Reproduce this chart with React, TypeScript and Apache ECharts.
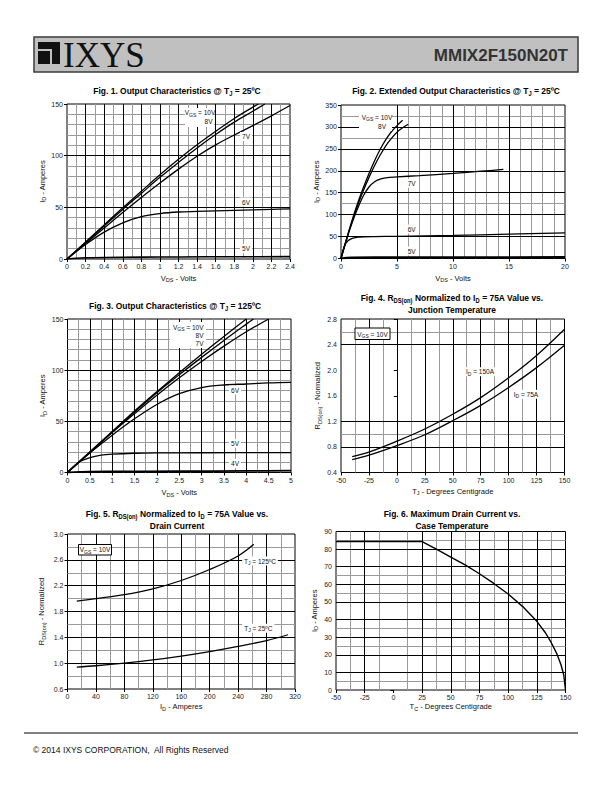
import React, { useEffect, useRef } from 'react';
import * as echarts from 'echarts';

const F = "'Liberation Sans', Arial, Helvetica, sans-serif";
const FN = "'Liberation Sans Narrow', 'Arial Narrow', 'Liberation Sans', Arial, sans-serif";
const GRAY = '#9a9a9a';

// ---------- Fig. 1 : Output characteristics @ 25C  [VDS (V), ID (A)]
const fig1_10V = [[0,0],[0.2,16.5],[0.4,33],[0.6,49.5],[0.8,65.5],[1.0,81.5],[1.2,96.5],[1.4,110.5],[1.6,123.5],[1.8,136],[2.0,147],[2.06,150]];
const fig1_8V = [[0,0],[0.2,16],[0.4,32],[0.6,48],[0.8,63.5],[1.0,79],[1.2,93.5],[1.4,107.5],[1.6,120.5],[1.8,132.5],[2.0,143],[2.13,150]];
const fig1_7V = [[0,0],[0.2,15],[0.4,30],[0.6,45],[0.8,59.5],[1.0,73.5],[1.2,87],[1.4,99.5],[1.6,110.5],[1.8,120],[2.0,129],[2.2,138.5],[2.4,148.5]];
const fig1_6V = [[0,0],[0.2,14],[0.4,26],[0.6,35],[0.8,41],[1.0,44],[1.2,45.5],[1.4,46],[1.6,46.5],[1.8,47],[2.0,47.5],[2.2,48],[2.4,48.5]];
const fig1_5V = [[0,0],[0.1,0.8],[0.2,1.2],[0.4,1.5],[0.8,1.8],[1.2,2],[1.8,2.2],[2.4,2.3]];

// ---------- Fig. 2 : Extended output characteristics @ 25C
const fig2_10V = [[0,0],[0.5,45],[1,88],[1.5,127],[2,162],[2.5,194],[3,223],[3.5,249],[4,271],[4.5,289],[5,303],[5.5,315]];
const fig2_8V = [[0,0],[0.5,44],[1,85],[1.5,122],[2,155],[2.5,185],[3,212],[3.5,236],[4,257],[4.5,274],[5,288],[5.5,298],[6,306]];
const fig2_7V = [[0,0],[0.5,44],[1,82],[1.5,115],[2,143],[2.5,163],[3,175],[3.5,181],[4,184],[5,186],[7,189],[10,194],[12.5,199],[14.5,203]];
const fig2_6V = [[0,0],[0.3,28],[0.6,40],[1,46],[1.5,48.5],[2,49.5],[3,50],[5,50.5],[10,52.5],[15,55.5],[20,58.5]];
const fig2_5V = [[0,0],[0.5,1.5],[1,2],[5,2.5],[10,2.5],[20,3]];

// ---------- Fig. 3 : Output characteristics @ 125C
const fig3_10V = [[0,0],[0.5,20],[1,40],[1.5,60],[2,79],[2.5,97.5],[3,115.5],[3.5,133],[4,150]];
const fig3_8V = [[0,0],[0.5,20],[1,39.5],[1.5,59],[2,78],[2.5,95.5],[3,112.5],[3.5,129],[4,145],[4.16,150]];
const fig3_7V = [[0,0],[0.5,19.5],[1,39],[1.5,57.5],[2,75.5],[2.5,92.5],[3,108.5],[3.5,123.5],[4,137.5],[4.5,150]];
const fig3_6V = [[0,0],[0.5,19],[1,36.5],[1.5,52.5],[2,66.5],[2.5,77],[3,83],[3.5,85.5],[4,86.5],[4.5,87.5],[5,88]];
const fig3_5V = [[0,0],[0.25,10],[0.5,14.5],[0.75,17],[1,18],[1.5,18.8],[2,19.1],[3,19.3],[5,19.5]];
const fig3_4V = [[0,0],[0.5,0.8],[1,1],[2.5,1.2],[4,1.5],[5,1.8]];

// ---------- Fig. 4 : RDS(on) normalized vs junction temperature
const fig4_T = [-40, -25, 0, 25, 50, 75, 100, 125, 150];
const fig4_150A = [0.65, 0.72, 0.89, 1.08, 1.31, 1.57, 1.88, 2.23, 2.64];
const fig4_75A = [0.60, 0.67, 0.82, 0.99, 1.21, 1.45, 1.73, 2.04, 2.39];

// ---------- Fig. 5 : RDS(on) normalized vs drain current
const fig5_ID_125 = [13, 40, 80, 120, 160, 200, 240, 262];
const fig5_125C = [1.96, 2.0, 2.06, 2.15, 2.28, 2.45, 2.66, 2.84];
const fig5_ID_25 = [13, 40, 80, 120, 160, 200, 240, 280, 310];
const fig5_25C = [0.94, 0.96, 1.0, 1.05, 1.11, 1.18, 1.26, 1.35, 1.44];

// ---------- Fig. 6 : Maximum drain current vs case temperature
const fig6_TC = [-50, 25, 37.5, 50, 62.5, 75, 87.5, 100, 112.5, 125, 132.5, 137.5, 142.5, 146, 148.5, 150];
const fig6_ID = [84.3, 84.3, 80, 75.5, 71, 66, 60.5, 54.5, 47.5, 39, 32.5, 27, 20.5, 14.5, 8.5, 0];

// ---------- tick labels
const fig4_yTicks = [0.4, 0.8, 1.2, 1.6, 2.0, 2.4, 2.8];
const fig5_yTicks = [0.6, 1.0, 1.4, 1.8, 2.2, 2.6, 3.0];

// ---------- grid lines (black / gray) per figure
const gl1 = { bx: [0.2,0.4,0.6,0.8,1.0,1.2,1.4,1.6,1.8,2.0,2.2], gx: [0.1,0.3,0.5,0.7,0.9,1.1,1.3,1.5,1.7,1.9,2.1,2.3], by: [50,100], gy: [10,20,30,40,60,70,80,90,110,120,130,140] };
const gl2 = { bx: [5,10,15], gx: [6,7,8,9,11,12,13,14,16,17,18,19], by: [50,100,150,200,250,300], gy: [125,275,325] };
const gl3 = { bx: [0.5,1,1.5,2,2.5,3,3.5,4,4.5], gx: [0.25,0.75,1.25,1.75,2.25,2.75,3.25,3.75,4.25,4.75], by: [50,100], gy: [10,20,30,40,60,70,80,90,110,120,130,140] };
const gl4 = { bx: [-25,0,25,50,75,100,125], gx: [-37.5,-12.5,12.5,37.5,62.5,87.5,112.5,137.5], by: [0.8,1.2,2.4], gy: [1.0,2.6] };
const gl5 = { bx: [40,80,120,160,200,240,280], gx: [20,60,100,140,180,220,260,300], by: [1.0,1.4,1.8,2.2,2.6], gy: [0.8,1.2,1.6,2.0,2.4,2.8] };
const gl6 = { bx: [-25,25,50,75,100,125], gx: [-37.5,-12.5,12.5,37.5,62.5,87.5,112.5,137.5], by: [10,20,30,40,50,60,70,80], gy: [5,25,35,55,65,85] };

const GRIDS = [
  { left: 67, top: 104, width: 223, height: 155 },
  { left: 341, top: 105, width: 224, height: 153.5 },
  { left: 67.5, top: 319, width: 223.5, height: 153.5 },
  { left: 341, top: 319, width: 223.5, height: 153.5 },
  { left: 67.5, top: 534, width: 227.5, height: 155 },
  { left: 336, top: 531.5, width: 229.5, height: 158.5 },
];

const axisRich = {
  n: { fontSize: 7.5, color: '#111', fontFamily: F, verticalAlign: 'middle', lineHeight: 10 },
  s: { fontSize: 5.5, color: '#111', fontFamily: F, verticalAlign: 'bottom', lineHeight: 10 },
};

function zip(xs: number[], ys: number[]) {
  return xs.map((x, i) => [x, ys[i]]);
}

function xAxis(i: number, min: number, max: number, interval: number, name: string, gap: number, extra: any = {}) {
  return {
    gridIndex: i, type: 'value', min, max, interval,
    axisLine: { show: false },
    axisTick: { show: true, length: 3, lineStyle: { color: '#000' } },
    axisLabel: { fontSize: 7, color: '#222', fontFamily: F, margin: 4, showMinLabel: true, showMaxLabel: true, ...(extra.axisLabel || {}) },
    splitLine: { show: false },
    name, nameLocation: 'middle', nameGap: gap,
    nameTextStyle: { rich: axisRich },
  };
}
function yAxis(i: number, min: number, max: number, interval: number, name: string, gap: number, extra: any = {}) {
  return {
    gridIndex: i, type: 'value', min, max, interval,
    axisLine: { show: false },
    axisTick: { show: true, length: 3, lineStyle: { color: '#000' }, ...(extra.axisTick || {}) },
    axisLabel: { fontSize: 7, color: '#222', fontFamily: F, margin: 4, showMinLabel: true, showMaxLabel: true, ...(extra.axisLabel || {}) },
    splitLine: { show: false },
    name, nameLocation: 'middle', nameGap: gap,
    nameTextStyle: { rich: axisRich },
  };
}

function gridSeries(i: number, g: any, x0: number, y0: number) {
  const d = [
    ...g.gx.map((v: number) => ({ xAxis: v, lineStyle: { color: GRAY } })),
    ...g.gy.map((v: number) => ({ yAxis: v, lineStyle: { color: GRAY } })),
    ...g.bx.map((v: number) => ({ xAxis: v, lineStyle: { color: '#000' } })),
    ...g.by.map((v: number) => ({ yAxis: v, lineStyle: { color: '#000' } })),
  ];
  return {
    type: 'line', xAxisIndex: i, yAxisIndex: i, data: [[x0, y0]], symbol: 'none',
    lineStyle: { opacity: 0 }, silent: true, z: 1,
    markLine: {
      z: 1, silent: true, symbol: ['none', 'none'], label: { show: false },
      lineStyle: { type: 'solid', width: 1 }, emphasis: { disabled: true },
      animation: false, data: d,
    },
  };
}

function curve(i: number, data: number[][], smooth: any = 0.35, width = 1.3) {
  return {
    type: 'line', xAxisIndex: i, yAxisIndex: i, data, symbol: 'none', smooth,
    lineStyle: { color: '#000', width }, silent: true, z: 3, clip: true,
  };
}

const labelRich = {
  n: { fontSize: 6.5, fontFamily: F, fill: '#111', verticalAlign: 'middle', lineHeight: 9 },
  s: { fontSize: 5, fontFamily: F, fill: '#111', verticalAlign: 'bottom', lineHeight: 9 },
};
const titleRich = {
  b: { fontSize: 9.5, fontWeight: 'bold', fontFamily: FN, fill: '#000', verticalAlign: 'middle', lineHeight: 12 },
  bs: { fontSize: 6.5, fontWeight: 'bold', fontFamily: FN, fill: '#000', verticalAlign: 'bottom', lineHeight: 12 },
};

function lbl(text: string, x: number, y: number, bg = true) {
  return {
    type: 'text', z: 10,
    style: {
      text, x, y, align: 'center', verticalAlign: 'middle', rich: labelRich,
      backgroundColor: bg ? '#fff' : 'transparent', padding: bg ? [0, 2] : 0,
    },
  };
}
function title(text: string, x: number, y: number) {
  return {
    type: 'text', z: 10, x, y, scaleX: 0.89, scaleY: 1,
    style: { text, x: 0, y: 0, align: 'center', verticalAlign: 'middle', rich: titleRich },
  };
}
function whiteRect(x: number, y: number, w: number, h: number, stroke = false) {
  return {
    type: 'rect', z: 5, shape: { x, y, width: w, height: h },
    style: { fill: '#fff', stroke: stroke ? '#000' : 'transparent', lineWidth: stroke ? 1 : 0 },
  };
}

const VGS10 = '{n|V}{s|GS}{n| = 10V}';

export default function App() {
  const ref = useRef<HTMLDivElement>(null);
  useEffect(() => {
    if (!ref.current) return;
    const chart = echarts.init(ref.current, undefined, { renderer: 'svg' });
    const option: any = {
      animation: false,
      backgroundColor: '#fff',
      grid: GRIDS.map((g) => ({ ...g, show: true, borderColor: '#000', borderWidth: 1, backgroundColor: 'transparent' })),
      xAxis: [
        xAxis(0, 0, 2.4, 0.2, '{n|V}{s|DS}{n| - Volts}', 14),
        xAxis(1, 0, 20, 5, '{n|V}{s|DS}{n| - Volts}', 14.5),
        xAxis(2, 0, 5, 0.5, '{n|V}{s|DS}{n| - Volts}', 15),
        xAxis(3, -50, 150, 25, '{n|T}{s|J}{n| - Degrees Centigrade}', 13.5),
        xAxis(4, 0, 320, 40, '{n|I}{s|D}{n| - Amperes}', 12.5),
        xAxis(5, -50, 150, 25, '{n|T}{s|C}{n| - Degrees Centigrade}', 11.5),
      ],
      yAxis: [
        yAxis(0, 0, 150, 50, '{n|I}{s|D}{n| - Amperes}', 13),
        yAxis(1, 0, 350, 50, '{n|I}{s|D}{n| - Amperes}', 17),
        yAxis(2, 0, 150, 50, '{n|I}{s|D}{n| - Amperes}', 19),
        yAxis(3, 0.4, 2.8, 0.4, '{n|R}{s|DS(on)}{n| - Normalized}', 18.5, {
          axisLabel: { customValues: fig4_yTicks, formatter: (v: number) => v.toFixed(1) },
          axisTick: { customValues: fig4_yTicks },
        }),
        yAxis(4, 0.6, 3.0, 0.2, '{n|R}{s|DS(on)}{n| - Normalized}', 21, {
          axisLabel: { customValues: fig5_yTicks, formatter: (v: number) => v.toFixed(1) },
          axisTick: { customValues: fig5_yTicks },
        }),
        yAxis(5, 0, 90, 10, '{n|I}{s|D}{n| - Amperes}', 17),
      ],
      series: [
        gridSeries(0, gl1, 0, 0),
        gridSeries(1, gl2, 0, 0),
        gridSeries(2, gl3, 0, 0),
        gridSeries(3, gl4, -50, 0.4),
        gridSeries(4, gl5, 0, 0.6),
        gridSeries(5, gl6, -50, 0),
        curve(0, fig1_10V), curve(0, fig1_8V), curve(0, fig1_7V), curve(0, fig1_6V), curve(0, fig1_5V, 0.35, 1.6),
        curve(1, fig2_10V), curve(1, fig2_8V), curve(1, fig2_7V), curve(1, fig2_6V), curve(1, fig2_5V, 0.35, 2.2),
        curve(2, fig3_10V), curve(2, fig3_8V), curve(2, fig3_7V), curve(2, fig3_6V), curve(2, fig3_5V), curve(2, fig3_4V, 0.35, 1.8),
        curve(3, zip(fig4_T, fig4_150A)), curve(3, zip(fig4_T, fig4_75A)),
        curve(4, zip(fig5_ID_125, fig5_125C)), curve(4, zip(fig5_ID_25, fig5_25C)),
        curve(5, zip(fig6_TC, fig6_ID), false, 1.4),
      ],
      graphic: [
        // header
        { type: 'rect', z: 1, shape: { x: 34, y: 37, width: 544, height: 35 }, style: { fill: '#c0c0c0', stroke: '#3a3a3a', lineWidth: 1.5 } },
        { type: 'rect', z: 2, shape: { x: 38, y: 42, width: 22, height: 22 }, style: { fill: '#111' } },
        { type: 'rect', z: 3, shape: { x: 38, y: 49, width: 14, height: 2 }, style: { fill: '#c0c0c0' } },
        { type: 'rect', z: 3, shape: { x: 50, y: 49, width: 2, height: 15 }, style: { fill: '#c0c0c0' } },
        { type: 'text', z: 3, style: { text: 'IXYS', x: 63, y: 55, verticalAlign: 'middle', fontSize: 35, fontFamily: "'Liberation Serif', 'Times New Roman', serif", fill: '#111' } },
        { type: 'text', z: 3, style: { text: 'MMIX2F150N20T', x: 568, y: 55, align: 'right', verticalAlign: 'middle', fontSize: 17, fontWeight: 'bold', fontFamily: F, fill: '#333' } },
        // footer
        { type: 'line', z: 1, shape: { x1: 24, y1: 733, x2: 578, y2: 733 }, style: { stroke: '#000', lineWidth: 1 } },
        { type: 'text', z: 1, style: { text: '\u00A9 2014 IXYS CORPORATION,  All Rights Reserved', x: 33, y: 750, verticalAlign: 'middle', fontSize: 8.5, fontFamily: F, fill: '#111' } },
        // titles
        title('{b|Fig. 1. Output Characteristics @ T}{bs|J}{b| = 25\u00BAC}', 177, 91),
        title('{b|Fig. 2. Extended Output Characteristics @ T}{bs|J}{b| = 25\u00BAC}', 456, 91),
        title('{b|Fig. 3. Output Characteristics @ T}{bs|J}{b| = 125\u00BAC}', 175, 306),
        title('{b|Fig. 4. R}{bs|DS(on)}{b| Normalized to I}{bs|D}{b| = 75A Value vs.}', 452, 297.5),
        title('{b|Junction Temperature}', 452, 309.5),
        title('{b|Fig. 5. R}{bs|DS(on)}{b| Normalized to I}{bs|D}{b| = 75A Value vs.}', 177, 513.5),
        title('{b|Drain Current}', 177, 525.5),
        title('{b|Fig. 6. Maximum Drain Current vs.}', 452, 513.5),
        title('{b|Case Temperature}', 452, 525.5),
        // fig 1 labels
        whiteRect(185, 108, 29, 19),
        lbl(VGS10, 200, 112.5, false),
        lbl('{n|8V}', 208.5, 121, false),
        lbl('{n|7V}', 246, 136.5),
        lbl('{n|6V}', 246, 202),
        lbl('{n|5V}', 246, 248.5),
        // fig 2 labels
        whiteRect(359, 111, 33, 20),
        lbl(VGS10, 377, 117.3, false),
        lbl('{n|8V}', 382, 126.5, false),
        lbl('{n|7V}', 411.7, 183.3),
        lbl('{n|6V}', 411.7, 229),
        lbl('{n|5V}', 411.7, 251),
        // fig 3 labels
        whiteRect(170, 322, 36, 26),
        lbl(VGS10, 188.3, 327.3, false),
        lbl('{n|8V}', 199.5, 335.5, false),
        lbl('{n|7V}', 199.5, 343.3, false),
        lbl('{n|6V}', 235, 390),
        lbl('{n|5V}', 235, 443.3),
        lbl('{n|4V}', 235, 463.3),
        // fig 4 labels
        whiteRect(355, 328, 35, 11.5, true),
        lbl(VGS10, 372.5, 334, false),
        lbl('{n|I}{s|D}{n| = 150A}', 480, 371.7),
        lbl('{n|I}{s|D}{n| = 75A}', 526, 394.3),
        // fig 5 labels
        whiteRect(78.5, 544.5, 33, 10.5, true),
        lbl(VGS10, 95, 549.7, false),
        lbl('{n|T}{s|J}{n| = 125\u00BAC}', 260, 561),
        lbl('{n|T}{s|J}{n| = 25\u00BAC}', 258.3, 628.3),
      ],
    };
    chart.setOption(option);
    return () => chart.dispose();
  }, []);
  return <div ref={ref} style={{ position: 'absolute', left: 0, top: 0, width: 612, height: 792, background: '#fff' }} />;
}
